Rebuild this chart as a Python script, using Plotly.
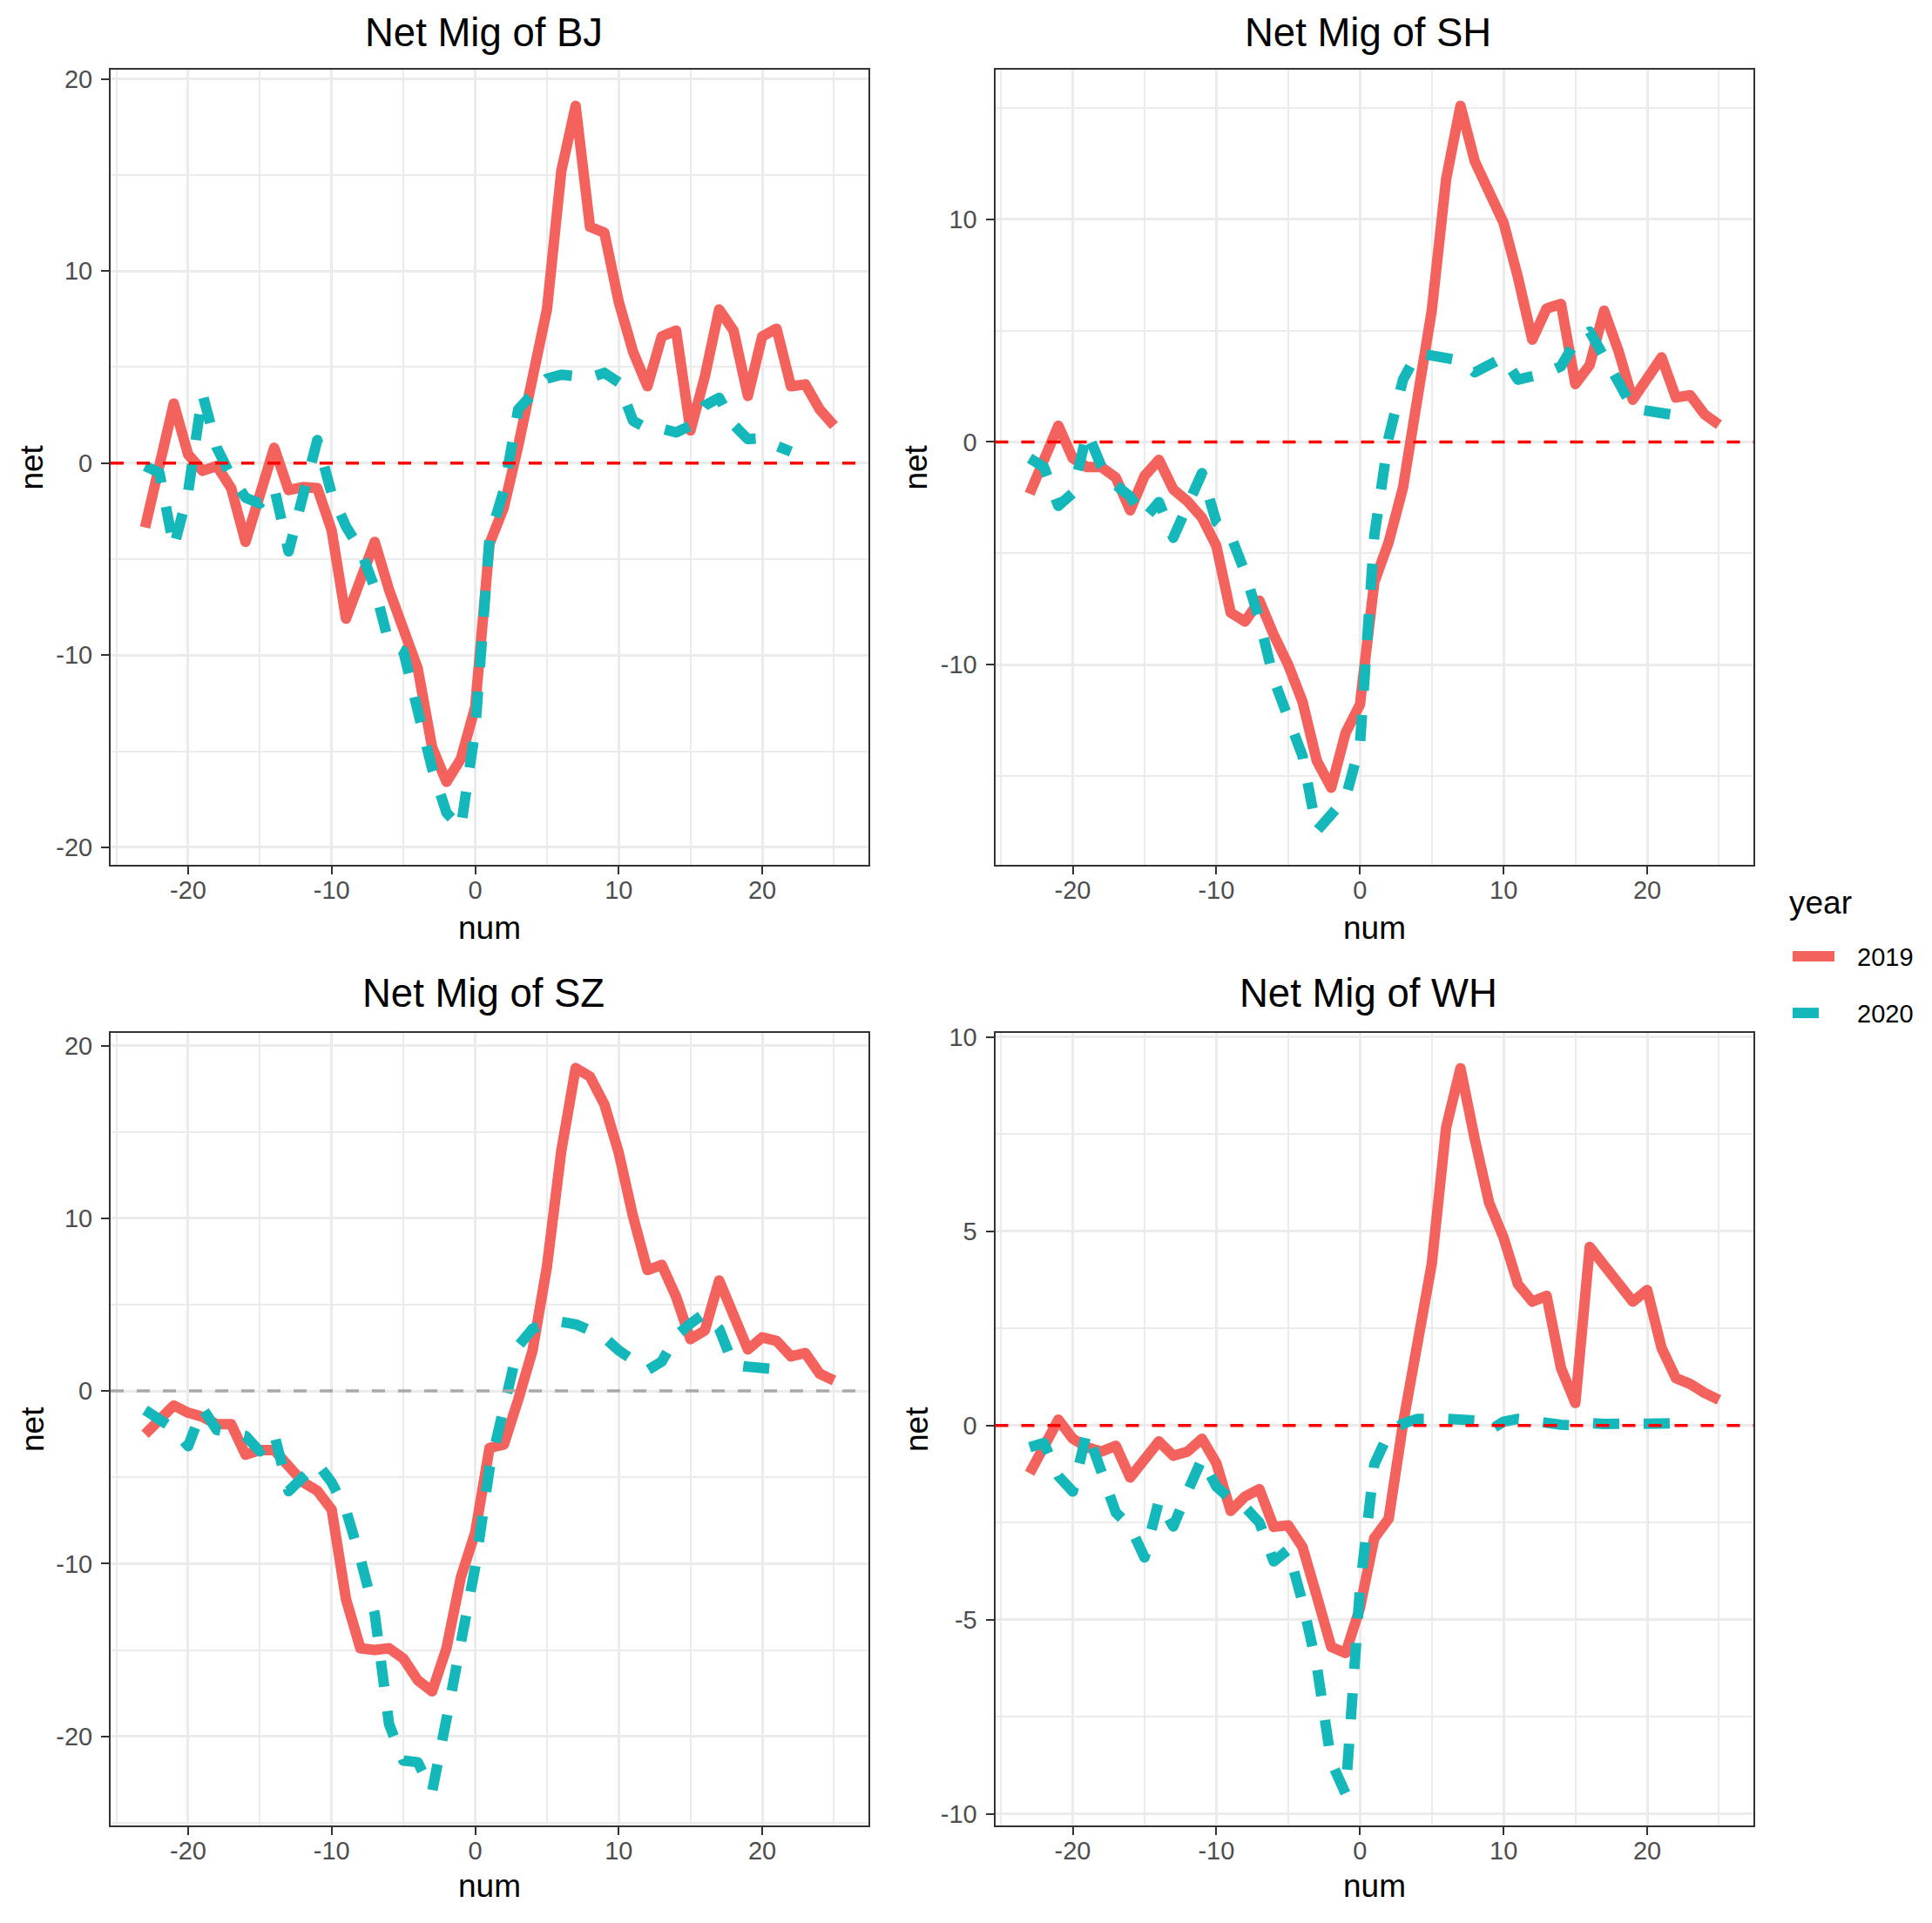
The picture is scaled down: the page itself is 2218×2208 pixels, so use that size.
import plotly.graph_objects as go

# ---------------- data ----------------
num_2019 = list(range(-23, 26))
num_2020 = list(range(-23, 23))

bj_2019 = [-3.35, -0.1, 3.1, 0.45, -0.4, -0.15, -1.3, -4.1, -1.6, 0.8, -1.4, -1.25, -1.3,
           -3.5, -8.1, -6.1, -4.1, -6.6, -8.5, -10.7, -14.8, -16.6, -15.4, -12.7,
           -4.2, -2.3, 0.9, 4.5, 8.0, 15.2, 18.6, 12.3, 12.0, 8.4, 5.8, 4.0, 6.6, 6.9,
           1.7, 4.5, 8.0, 6.9, 3.5, 6.6, 7.0, 4.0, 4.1, 2.8, 1.95]
bj_2020 = [-0.15, -0.5, -4.4, -1.5, 3.6, 0.8, -0.7, -1.8, -2.1, -1.3, -4.6, -1.4, 1.2,
           -1.6, -3.3, -4.5, -6.5, -9.4, -9.8, -12.9, -15.9, -18.2, -19.0, -13.9,
           -3.9, -1.4, 2.8, 3.6, 4.4, 4.6, 4.5, 4.45, 4.7, 4.2, 2.2, 1.8, 1.8, 1.6,
           1.95, 3.0, 3.4, 2.0, 1.25, 1.3, 0.9, 0.6]

sh_2019 = [-2.33, -0.8, 0.73, -0.73, -1.13, -1.13, -1.6, -3.07, -1.53, -0.8, -2.13, -2.67,
           -3.4, -4.67, -7.67, -8.07, -7.13, -8.67, -10.0, -11.67, -14.33, -15.53, -13.07,
           -11.8, -6.3, -4.5, -2.05, 1.95, 5.9, 11.8, 15.1, 12.6, 11.3, 9.85, 7.4, 4.6,
           6.0, 6.2, 2.6, 3.46, 5.9, 4.1, 1.9, 2.9, 3.8, 2.0, 2.1, 1.24, 0.78]
sh_2020 = [-0.73, -1.13, -2.87, -2.3, 0.45, -1.1, -1.93, -2.45, -3.45, -2.7, -4.3, -2.95,
           -1.4, -3.6, -4.2, -5.87, -8.0, -10.67, -12.4, -14.1, -17.47, -16.8, -16.0,
           -13.6, -4.2, 0.2, 2.8, 4.0, 3.9, 3.8, 3.65, 3.13, 3.5, 3.8, 2.8, 2.9, 3.1,
           3.4, 4.5, 4.96, 3.9, 2.7, 1.5, 1.44, 1.3, 1.2]

sz_2019 = [-2.5, -1.7, -0.84, -1.26, -1.5, -1.93, -1.93, -3.69, -3.43, -3.43, -4.36, -5.28,
           -5.78, -6.87, -12.06, -14.9, -15.0, -14.9, -15.5, -16.75, -17.4, -14.9, -10.8,
           -8.2, -3.3, -3.1, -0.5, 2.35, 7.2, 13.9, 18.7, 18.2, 16.6, 13.8, 10.1, 7.0,
           7.3, 5.45, 3.0, 3.5, 6.4, 4.5, 2.4, 3.1, 2.9, 2.0, 2.2, 1.0, 0.6]
sz_2020 = [-1.1, -1.6, -2.2, -3.2, -1.0, -2.26, -2.5, -2.6, -3.5, -2.5, -5.8, -5.0, -4.2,
           -5.3, -6.9, -9.7, -12.9, -19.3, -21.4, -21.5, -23.2, -19.0, -14.3, -10.2,
           -4.5, -0.8, 2.6, 3.6, 3.9, 4.0, 3.86, 3.5, 3.1, 2.35, 1.7, 1.2, 1.7, 3.2,
           3.9, 4.5, 3.6, 1.5, 1.4, 1.4, 1.26, 1.6]

wh_2019 = [-1.23, -0.52, 0.15, -0.34, -0.56, -0.67, -0.52, -1.34, -0.82, -0.41, -0.78, -0.67,
           -0.34, -0.97, -2.2, -1.83, -1.64, -2.61, -2.57, -3.13, -4.4, -5.7, -5.86, -4.7,
           -2.9, -2.4, 0.05, 2.2, 4.16, 7.67, 9.2, 7.37, 5.73, 4.84, 3.64, 3.19, 3.34,
           1.48, 0.58, 4.6, 4.16, 3.72, 3.19, 3.49, 2.0, 1.22, 1.07, 0.84, 0.66]
wh_2020 = [-0.56, -0.45, -1.3, -1.7, -0.15, -1.19, -2.24, -2.6, -3.4, -1.94, -2.6, -1.7,
           -0.86, -1.57, -1.9, -2.1, -2.5, -3.5, -3.2, -4.55, -6.2, -8.66, -9.48, -4.2,
           -1.0, -0.2, 0.05, 0.17, 0.2, 0.17, 0.15, 0.13, -0.13, 0.1, 0.17, 0.1, 0.06,
           0.02, 0.0, 0.06, 0.04, 0.03, 0.02, 0.06, 0.05, 0.06]

cities = ["BJ", "SH", "SZ", "WH"]
years = ["2019", "2020"]

x_tick_vals = [-20, -10, 0, 10, 20]
x_tick_text = ["-20", "-10", "0", "10", "20"]
x_minor_vals = [-25, -15, -5, 5, 15, 25]

y_tick_vals = {"BJ": [-20, -10, 0, 10, 20], "SH": [-10, 0, 10],
               "SZ": [-20, -10, 0, 10, 20], "WH": [-10, -5, 0, 5, 10]}
y_tick_text = {"BJ": ["-20", "-10", "0", "10", "20"], "SH": ["-10", "0", "10"],
               "SZ": ["-20", "-10", "0", "10", "20"], "WH": ["-10", "-5", "0", "5", "10"]}
y_minor_vals = {"BJ": [-15, -5, 5, 15], "SH": [-15, -5, 5, 15],
                "SZ": [-25, -15, -5, 5, 15], "WH": [-7.5, -2.5, 2.5, 7.5]}

series = {"BJ": (bj_2019, bj_2020), "SH": (sh_2019, sh_2020),
          "SZ": (sz_2019, sz_2020), "WH": (wh_2019, wh_2020)}

# ---------------- layout helpers ----------------
PAGE_W, PAGE_H = 2218, 2208
OFF = 8                      # default body margin of the page
W, H = PAGE_W - 2 * OFF, PAGE_H - 2 * OFF

def vy(t):
    # vertical placement correction measured against the reference
    return (t - 10.9) / 0.9937

def fx(p): return (p - OFF) / W
def fy(p): return 1 - (vy(p) - OFF) / H

FONT = "Liberation Sans, Arial, Helvetica, sans-serif"
RED = "#F3625D"
TEAL = "#14B7BA"
GRID = "#EBEBEB"
LW = 12

panel_px = {
    "BJ": dict(x=(127, 997), y=(80, 993), yr=(-20.92, 20.48)),
    "SH": dict(x=(1142.5, 2013), y=(80, 993), yr=(-19.0, 16.72)),
    "SZ": dict(x=(127, 997), y=(1186, 2096), yr=(-25.16, 20.73)),
    "WH": dict(x=(1142.5, 2013), y=(1186, 2096), yr=(-10.3, 10.11)),
}
hline_color = {"BJ": "#FF0000", "SH": "#FF0000", "SZ": "#A9A9A9", "WH": "#FF0000"}

fig = go.Figure()
layout = dict(width=W, height=H, autosize=False, margin=dict(l=0, r=0, t=0, b=0),
              paper_bgcolor="white", plot_bgcolor="white", showlegend=False,
              font=dict(family=FONT, color="black"))
annotations = []
shapes = []

for i, c in enumerate(cities, start=1):
    sfx = "" if i == 1 else str(i)
    p = panel_px[c]
    xa = "xaxis" + sfx
    ya = "yaxis" + sfx
    y19, y20 = series[c]
    fig.add_trace(go.Scatter(x=num_2019, y=y19, mode="lines", name="2019",
                             line=dict(color=RED, width=LW),
                             xaxis="x" + sfx, yaxis="y" + sfx, hoverinfo="skip"))
    fig.add_trace(go.Scatter(x=num_2020, y=y20, mode="lines", name="2020",
                             line=dict(color=TEAL, width=LW, dash="30px,28px"),
                             xaxis="x" + sfx, yaxis="y" + sfx, hoverinfo="skip"))
    common = dict(showline=True, mirror=True, linecolor="#333333", linewidth=2,
                  ticks="outside", ticklen=9, tickwidth=2, tickcolor="#333333",
                  tickfont=dict(family=FONT, size=29, color="#4D4D4D"),
                  showgrid=True, gridcolor=GRID, gridwidth=3, zeroline=False)
    layout[xa] = dict(domain=[fx(p["x"][0]), fx(p["x"][1])], anchor="y" + sfx,
                      range=[-25.4, 27.4], tickmode="array", tickvals=x_tick_vals,
                      ticktext=x_tick_text, ticklabelstandoff=-7,
                      minor=dict(tickvals=x_minor_vals, showgrid=True, gridcolor=GRID,
                                 gridwidth=1.5, ticks=""),
                      **common)
    layout[ya] = dict(domain=[fy(p["y"][1]), fy(p["y"][0])], anchor="x" + sfx,
                      range=list(p["yr"]), tickmode="array", tickvals=y_tick_vals[c],
                      ticktext=y_tick_text[c], ticklabelstandoff=4,
                      minor=dict(tickvals=y_minor_vals[c], showgrid=True, gridcolor=GRID,
                                 gridwidth=1.5, ticks=""),
                      **common)
    # horizontal reference line at 0
    shapes.append(dict(type="line", xref="x" + sfx + " domain", x0=0, x1=1,
                       yref="y" + sfx, y0=0, y1=0, layer="above",
                       line=dict(color=hline_color[c], width=3.5, dash="15px,15px")))
    # panel title
    cx = (p["x"][0] + p["x"][1]) / 2 - 7
    top_row = p["y"][0] < 500
    ty = 37 if top_row else 1140
    annotations.append(dict(text="Net Mig of " + c, x=fx(cx), y=fy(ty), xref="paper",
                            yref="paper", showarrow=False, xanchor="center",
                            yanchor="middle", font=dict(family=FONT, size=45.5, color="black")))
    # axis titles
    nty = 1065 if top_row else 2166
    annotations.append(dict(text="num", x=fx((p["x"][0] + p["x"][1]) / 2), y=fy(nty),
                            xref="paper", yref="paper", showarrow=False, xanchor="center",
                            yanchor="middle", font=dict(family=FONT, size=37, color="black")))
    ntx = 37 if p["x"][0] < 500 else 1052
    annotations.append(dict(text="net", x=fx(ntx), y=fy((p["y"][0] + p["y"][1]) / 2),
                            xref="paper", yref="paper", showarrow=False, xanchor="center",
                            yanchor="middle", textangle=-90,
                            font=dict(family=FONT, size=37, color="black")))

# legend (drawn manually)
annotations.append(dict(text="year", x=fx(2052), y=fy(1036), xref="paper", yref="paper",
                        showarrow=False, xanchor="left", yanchor="middle",
                        font=dict(family=FONT, size=37, color="black")))
for yr_label, col, dash, ypx in [(years[0], RED, "solid", 1098), (years[1], TEAL, "30px,28px", 1163)]:
    shapes.append(dict(type="line", xref="paper", yref="paper", x0=fx(2058), x1=fx(2106),
                       y0=fy(ypx), y1=fy(ypx), line=dict(color=col, width=LW, dash=dash)))
    annotations.append(dict(text=yr_label, x=fx(2130), y=fy(ypx + 1), xref="paper",
                            yref="paper", showarrow=False, xanchor="left", yanchor="middle",
                            font=dict(family=FONT, size=29, color="black")))

layout["annotations"] = annotations
layout["shapes"] = shapes
fig.update_layout(**layout)

post = """
document.querySelectorAll('.js-line').forEach(function(e){e.style.strokeLinejoin='round';});
"""
fig.write_html("out.html", post_script=post, config={"displayModeBar": False})
